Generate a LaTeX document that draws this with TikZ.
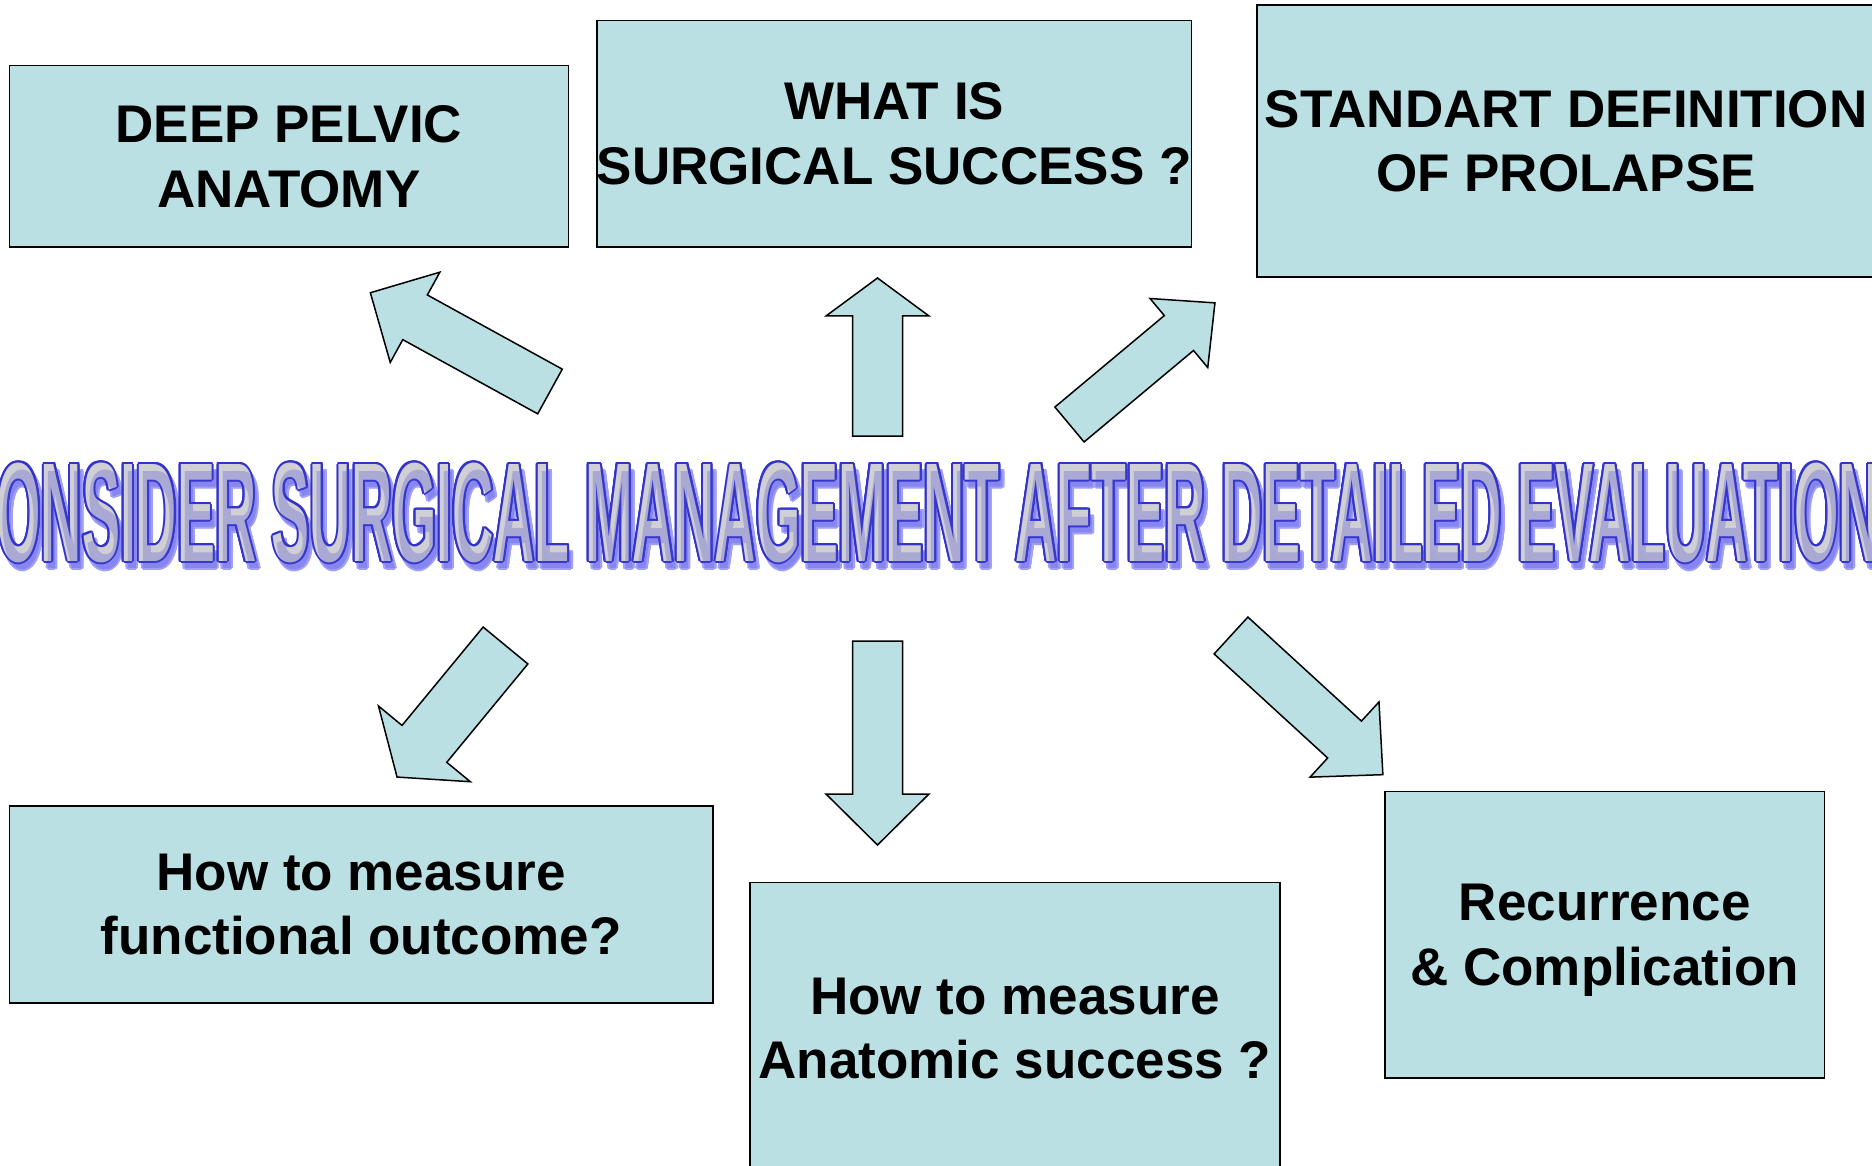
\documentclass[tikz,border=0pt]{standalone}
\usepackage{fontspec}
\setmainfont{Liberation Sans}
\usepackage{graphicx}
\usepackage{xcolor}

\definecolor{panel}{RGB}{187,224,227}
\definecolor{rimblue}{RGB}{51,51,204}
\definecolor{letterfill}{RGB}{208,208,212}
\definecolor{shadowrim}{RGB}{160,160,248}
\definecolor{shadowtint}{RGB}{70,70,215}

\tikzstyle{card}=[rectangle, draw=black, line width=1.5pt, fill=panel, inner sep=0pt, text depth=0pt, align=center, font=\bfseries\fontsize{53}{64.5}\selectfont]
\tikzstyle{flow}=[draw=black, line width=1.5pt, fill=panel, line join=miter]
\tikzstyle{banner}=[anchor=base west, inner sep=0pt, font=\bfseries\fontsize{141}{141}\selectfont]

\newcommand{\bannertext}{\scalebox{0.404}[1]{CONSIDER SURGICAL MANAGEMENT AFTER DETAILED EVALUATION}}

% fat arrow: tail, angle, length, shaft width, head width, head length
\newcommand{\blockarrow}[6]{%
  \draw[flow, shift={(#1)}, rotate=#2]
    (0,-#4/2) -- (#3-#6,-#4/2) -- (#3-#6,-#5/2) -- (#3,0)
    -- (#3-#6,#5/2) -- (#3-#6,#4/2) -- (0,#4/2) -- cycle;}

\begin{document}
\begin{tikzpicture}[x=1pt, y=-1pt]
    \useasboundingbox (0,0) rectangle (1872,1166);
    \clip (0,0) rectangle (1872,1166);

    % question boxes
    \draw node at (288.9,156.4) [card, minimum width=558.8pt, minimum height=181.4pt] (anatomy) {DEEP PELVIC\\ANATOMY};
    \draw node at (894.2,133.7) [card, minimum width=589.8pt, minimum height=226.8pt] (success) {WHAT IS\\SURGICAL SUCCESS ?};
    \draw node at (1566.1,140.9) [card, minimum width=617.8pt, minimum height=272.2pt] (definition) {STANDART DEFINITION\\OF PROLAPSE};
    \draw node at (361.2,904.4) [card, minimum width=703.3pt, minimum height=197pt] (functional) {How to measure\\functional outcome?};
    \draw node at (1014.9,1028.2) [card, minimum width=530.1pt, minimum height=291.7pt] (anatomic) {How to measure\\Anatomic success ?};
    \draw node at (1604.7,934.9) [card, minimum width=439.3pt, minimum height=286.5pt] (recurrence) {Recurrence\\\& Complication};

    % tails of the fat arrows
    \coordinate (tailA) at (550,391.5);
    \coordinate (tailB) at (877.5,436);
    \coordinate (tailC) at (1069.5,424.5);
    \coordinate (tailD) at (505.5,645.5);
    \coordinate (tailE) at (877.5,641);
    \coordinate (tailF) at (1231,635.5);

    \blockarrow{tailA}{151.2}{205}{51}{103}{51}
    \blockarrow{tailB}{90}{158}{50}{103}{38}
    \blockarrow{tailC}{39.9}{189.6}{45.5}{90}{47}
    \blockarrow{tailD}{230.5}{170.5}{58}{119}{43}
    \blockarrow{tailE}{270}{204}{50}{103}{51}
    \blockarrow{tailF}{-42.5}{206}{50}{102}{52}

    % banner: shadow rim, blue rim, grey letters, tinted shadow on top
    \foreach \a [count=\i] in {0,22.5,...,337.5}
        \node[banner, text=shadowrim, shift={(\a:2)}] (shade\i) at (-40.7,568) {\bannertext};
    \foreach \a [count=\i] in {0,22.5,...,337.5}
        \node[banner, text=rimblue, shift={(\a:2)}] (rim\i) at (-44.7,561) {\bannertext};
    \node[banner, text=letterfill] (banner) at (-44.7,561) {\bannertext};
    \node[banner, text=shadowtint, text opacity=0.28] (bannershadow) at (-40.7,568) {\bannertext};
\end{tikzpicture}
\end{document}
